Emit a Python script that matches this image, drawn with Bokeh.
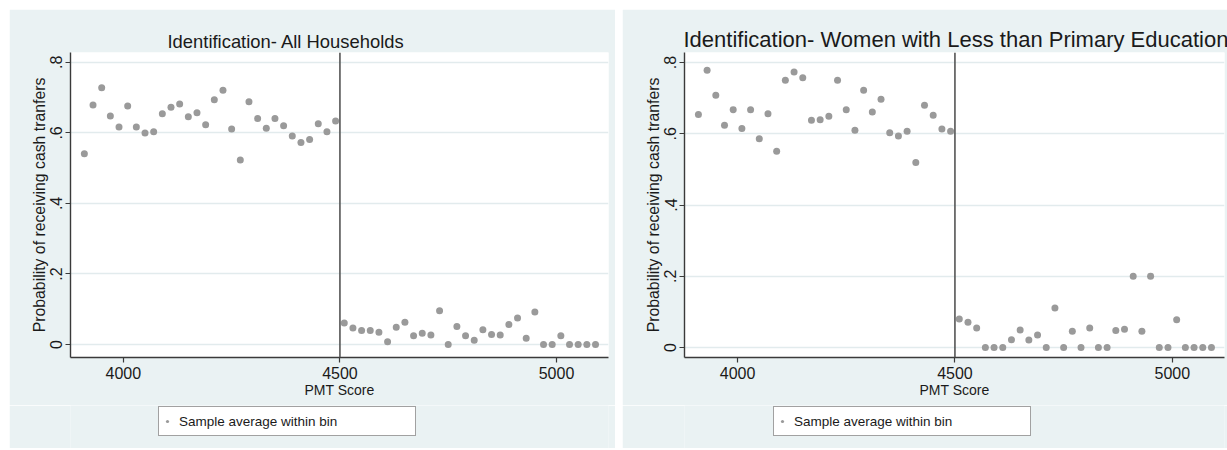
from bokeh.plotting import figure
from bokeh.layouts import row, column
from bokeh.models import (Span, Legend, LegendItem, FixedTicker,
                          CustomJSTickFormatter, ColumnDataSource, Range1d)
from bokeh.embed import file_html
from bokeh.resources import INLINE

# ---------------- data ----------------
pmt_bins = [3910, 3930, 3950, 3970, 3990, 4010, 4030, 4050, 4070, 4090,
            4110, 4130, 4150, 4170, 4190, 4210, 4230, 4250, 4270, 4290,
            4310, 4330, 4350, 4370, 4390, 4410, 4430, 4450, 4470, 4490,
            4510, 4530, 4550, 4570, 4590, 4610, 4630, 4650, 4670, 4690,
            4710, 4730, 4750, 4770, 4790, 4810, 4830, 4850, 4870, 4890,
            4910, 4930, 4950, 4970, 4990, 5010, 5030, 5050, 5070, 5090]

all_households = [0.541, 0.679, 0.728, 0.648, 0.617, 0.676, 0.617, 0.600, 0.603, 0.654,
                  0.673, 0.682, 0.646, 0.657, 0.623, 0.694, 0.721, 0.611, 0.523, 0.688,
                  0.641, 0.613, 0.641, 0.620, 0.591, 0.573, 0.581, 0.626, 0.603, 0.634,
                  0.061, 0.047, 0.040, 0.040, 0.035, 0.008, 0.049, 0.063, 0.025, 0.032,
                  0.027, 0.096, 0.000, 0.051, 0.025, 0.012, 0.042, 0.028, 0.027, 0.057,
                  0.075, 0.018, 0.092, 0.000, 0.000, 0.025, 0.000, 0.000, 0.000, 0.000]

women_less_primary = [0.654, 0.778, 0.708, 0.624, 0.667, 0.615, 0.667, 0.586, 0.656, 0.551,
                      0.750, 0.773, 0.757, 0.638, 0.639, 0.649, 0.750, 0.667, 0.610, 0.722,
                      0.661, 0.697, 0.603, 0.594, 0.607, 0.519, 0.680, 0.652, 0.613, 0.607,
                      0.080, 0.071, 0.055, 0.000, 0.000, 0.000, 0.022, 0.049, 0.021, 0.035,
                      0.000, 0.111, 0.000, 0.046, 0.000, 0.055, 0.000, 0.000, 0.048, 0.051,
                      0.200, 0.046, 0.200, 0.000, 0.000, 0.078, 0.000, 0.000, 0.000, 0.000]

x_ticks = [4000, 4500, 5000]
y_ticks = [0, 0.2, 0.4, 0.6, 0.8]
cutoff = 4500

titles = ["Identification- All Households",
          "Identification- Women with Less than Primary Education"]
x_label = "PMT Score"
y_label = "Probability of receiving cash tranfers"
legend_label = "Sample average within bin"

BG = "#eaf2f3"
FONT = "Liberation Sans"
AXIS_COL = "#3a3a3a"
DOT_COL = "#9a9a9a"
TXT = "#1a1a1a"


def make_panel(title, values, width, y_start, y_end, border_left, border_right,
               title_offset, title_size, legend_x):
    p = figure(width=width, height=396, output_backend="svg", toolbar_location=None,
               x_range=Range1d(3878, 5120), y_range=Range1d(y_start, y_end),
               min_border_left=border_left, min_border_right=border_right,
               min_border_top=43, min_border_bottom=48,
               background_fill_color="white", border_fill_color=BG,
               outline_line_color=None)
    p.title.text = title
    p.title.text_font = FONT
    p.title.text_font_size = title_size
    p.title.text_font_style = "normal"
    p.title.text_color = TXT
    p.title.align = "left"
    p.title.offset = title_offset
    p.title.standoff = 2

    src = ColumnDataSource(dict(x=pmt_bins, y=values))
    p.scatter("x", "y", source=src, size=7, color=DOT_COL, line_color=None)

    p.add_layout(Span(location=cutoff, dimension="height",
                      line_color="#555555", line_width=1.6))

    # axes
    p.xaxis.ticker = FixedTicker(ticks=x_ticks)
    p.yaxis.ticker = FixedTicker(ticks=y_ticks)
    p.yaxis.formatter = CustomJSTickFormatter(
        code="return tick == 0 ? '0' : tick.toFixed(1).replace(/^0/, '');")
    for ax in (p.xaxis[0], p.yaxis[0]):
        ax.axis_line_color = AXIS_COL
        ax.axis_line_width = 1.4
        ax.major_tick_line_color = AXIS_COL
        ax.major_tick_line_width = 1.2
        ax.major_tick_out = 5
        ax.major_tick_in = 0
        ax.minor_tick_line_color = None
        ax.major_label_text_font = FONT
        ax.major_label_text_font_size = "16px"
        ax.major_label_text_color = TXT
        ax.axis_label_text_font = FONT
        ax.axis_label_text_font_style = "normal"
        ax.axis_label_text_color = TXT
    p.xaxis.axis_label = x_label
    p.xaxis.axis_label_text_font_size = "14px"
    p.xaxis.major_label_standoff = 4
    p.xaxis.axis_label_standoff = 0
    p.yaxis.axis_label = y_label
    p.yaxis.axis_label_text_font_size = "15.8px"
    p.yaxis.major_label_orientation = "vertical"
    p.yaxis.major_label_standoff = 3
    p.yaxis.axis_label_standoff = 0

    p.xgrid.grid_line_color = None
    p.ygrid.grid_line_color = "#e2ebed"
    p.ygrid.grid_line_width = 1.5

    # legend strip below the graph (its frame is aligned with the graph's frame)
    lg = figure(width=width, height=43, output_backend="svg", toolbar_location=None,
                x_range=Range1d(0, 1), y_range=Range1d(0, 1),
                x_axis_type=None, y_axis_type=None, min_border=0,
                background_fill_color=BG, border_fill_color=BG,
                outline_line_color=None)
    lg.grid.grid_line_color = None
    nan = float("nan")
    key = lg.scatter(x=[nan], y=[nan], size=5, color=DOT_COL, line_color=None)
    legend = Legend(items=[LegendItem(label=legend_label, renderers=[key])],
                    location=(legend_x, 12), orientation="vertical",
                    padding=4, margin=0, spacing=0,
                    glyph_width=8, glyph_height=20,
                    label_standoff=8, label_width=232, label_height=20,
                    label_text_font=FONT, label_text_font_size="13.5px",
                    label_text_color=TXT,
                    border_line_color="#444444", border_line_width=1.2,
                    background_fill_color="white", background_fill_alpha=1.0)
    lg.add_layout(legend, "center")
    return column(p, lg, spacing=0)


c1 = make_panel(titles[0], all_households, 606, -0.0369, 0.828, 61, 7, 97,
                "18.4px", 88)
c2 = make_panel(titles[1], women_less_primary, 605, -0.028, 0.828, 62, 3, -1,
                "22px", 89)

layout = row(c1, c2, spacing=7, margin=(9, 0, 0, 9))

open("out.html", "w").write(file_html(layout, INLINE))
